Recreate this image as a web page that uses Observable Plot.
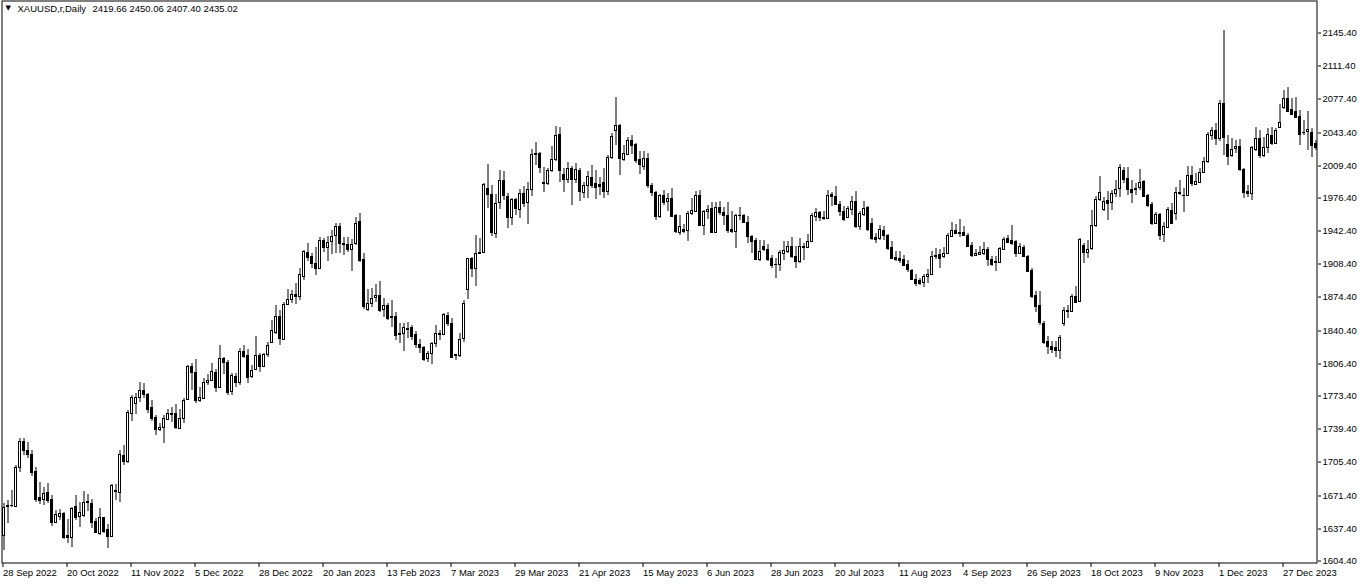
<!DOCTYPE html>
<html><head><meta charset="utf-8">
<script src="https://cdn.jsdelivr.net/npm/d3@7"></script>
<script src="https://cdn.jsdelivr.net/npm/@observablehq/plot@0.6"></script>
<style>
html,body{margin:0;padding:0;background:#fff;overflow:hidden}
#chart svg{display:block}
</style></head><body><div id="chart"></div>
<script>
const symbolTitle = "XAUUSD,r,Daily";
const headerQuote = "2419.66 2450.06 2407.40 2435.02";

const open = [
1630.0,1660.0,1660.6,1659.8,1700.0,1726.4,1717.1,1713.0,1695.6,1668.7,
1666.6,1673.8,1666.6,1643.7,1649.8,1652.3,1630.0,1627.7,1659.8,1649.8,
1650.5,1664.9,1662.5,1644.4,1632.4,1648.2,1636.2,1629.0,1675.8,1674.4,
1712.0,1706.2,1754.7,1765.6,1771.7,1778.3,1774.8,1760.9,1750.6,1738.3,
1740.4,1748.6,1754.3,1754.7,1740.0,1749.6,1769.1,1803.2,1797.4,1768.4,
1770.7,1786.5,1788.9,1797.1,1781.4,1811.1,1807.6,1777.6,1793.0,1787.1,
1818.6,1814.5,1793.3,1800.1,1814.5,1803.5,1815.2,1828.1,1838.3,1854.4,
1830.5,1866.7,1871.5,1877.0,1875.2,1895.7,1919.7,1915.9,1908.4,1903.9,
1932.3,1925.4,1931.3,1937.4,1946.6,1929.5,1927.9,1923.1,1928.9,1951.8,
1912.5,1861.6,1867.4,1873.6,1875.9,1861.6,1865.7,1854.4,1854.4,1836.3,
1836.7,1841.4,1842.9,1835.7,1825.7,1823.0,1811.1,1816.8,1826.4,1836.0,
1836.0,1855.5,1847.0,1815.2,1814.5,1831.6,1882.1,1913.6,1903.3,1918.7,
1920.3,1985.9,1979.1,1939.2,1970.9,1993.8,1977.4,1956.2,1974.3,1963.8,
1980.1,1970.9,1984.6,2020.1,2021.1,1992.0,1991.0,2004.0,2015.3,2040.9,
1999.9,1995.1,2006.1,1995.1,2004.3,1981.5,1989.0,1996.5,1990.7,1989.7,
1991.7,1982.2,2017.0,2045.3,2049.8,2015.3,2020.7,2034.5,2030.7,2015.3,
2007.8,2016.3,1989.0,1981.5,1956.6,1978.7,1972.0,1975.3,1957.6,1940.5,
1943.6,1942.9,1960.0,1962.3,1978.7,1948.0,1961.7,1965.1,1940.2,1965.8,
1961.0,1957.6,1943.6,1941.8,1957.4,1957.6,1950.7,1936.1,1932.6,1913.1,
1925.8,1923.4,1913.9,1908.0,1908.0,1919.0,1921.3,1925.8,1915.6,1910.5,
1925.1,1924.8,1931.6,1956.6,1961.0,1955.6,1954.8,1979.4,1977.1,1969.2,
1961.7,1955.6,1964.4,1972.6,1946.3,1958.9,1965.8,1949.7,1935.1,1934.4,
1942.2,1937.1,1925.1,1914.9,1913.9,1913.1,1907.4,1901.3,1892.0,1891.0,
1889.3,1895.4,1897.8,1915.9,1918.0,1915.9,1919.3,1936.4,1942.2,1940.5,
1940.5,1937.7,1927.5,1917.2,1918.3,1919.3,1922.8,1913.1,1910.5,1909.8,
1923.4,1934.4,1932.6,1931.0,1919.0,1925.1,1916.2,1901.6,1875.6,1865.4,
1847.3,1829.1,1823.4,1822.4,1819.9,1847.3,1859.9,1859.9,1874.6,1869.5,
1927.5,1920.0,1924.1,1948.0,1974.3,1963.8,1973.3,1971.5,1980.8,1985.3,
2004.0,1995.5,1984.2,1985.3,1986.3,1992.8,1978.4,1969.2,1950.0,1958.9,
1938.4,1945.9,1963.0,1960.3,1980.1,1978.1,1978.4,1998.9,1989.7,1992.0,
2002.3,2013.5,2039.9,2045.0,2036.5,2073.0,2030.7,2019.4,2026.2,2028.6,
2004.7,1982.5,1980.8,2025.2,2036.5,2019.4,2027.3,2039.9,2032.0,2047.8,
2068.3,2077.5,2066.2,2064.8,2059.4,2043.3,2044.3,2043.3,2031.4
];
const high = [
1662.5,1665.9,1676.2,1701.8,1729.1,1729.1,1725.6,1717.1,1700.0,1684.7,
1679.5,1683.6,1671.0,1655.7,1656.4,1653.6,1646.1,1658.4,1671.0,1664.2,
1675.1,1672.0,1666.6,1647.2,1657.4,1648.8,1641.3,1682.3,1682.0,1717.1,
1722.3,1758.1,1773.8,1775.8,1787.1,1786.1,1775.8,1768.4,1753.0,1744.5,
1753.0,1758.8,1760.9,1764.3,1758.8,1770.1,1804.2,1806.0,1810.1,1781.4,
1790.6,1795.0,1806.0,1799.8,1824.7,1812.7,1809.3,1795.7,1795.7,1821.3,
1824.7,1820.6,1804.2,1834.2,1816.2,1816.2,1827.5,1850.3,1865.7,1860.6,
1869.1,1882.1,1881.1,1887.9,1903.3,1922.1,1928.9,1918.7,1925.4,1935.7,
1934.0,1936.4,1942.5,1949.4,1949.4,1935.1,1935.1,1933.0,1956.2,1960.3,
1918.7,1881.8,1882.8,1887.2,1890.3,1872.6,1867.4,1870.8,1858.8,1847.0,
1847.0,1848.6,1845.2,1839.1,1830.5,1823.7,1818.9,1827.5,1845.2,1840.1,
1857.2,1858.8,1852.1,1815.8,1836.7,1870.8,1914.2,1915.2,1937.4,1934.0,
1990.4,2009.9,1988.7,1979.1,2004.0,2003.0,1980.1,1975.0,1975.0,1984.6,
1987.9,1992.0,2025.2,2032.4,2022.2,2007.4,2006.4,2028.9,2048.8,2047.8,
2006.1,2012.2,2007.8,2011.2,2006.1,1991.7,2002.7,2009.5,2004.3,1996.5,
2006.1,2019.7,2041.9,2078.5,2051.2,2029.3,2037.5,2040.2,2031.4,2023.8,
2023.2,2021.4,1990.7,1982.2,1979.4,1983.8,1980.5,1985.6,1958.9,1957.6,
1948.7,1961.7,1975.3,1982.8,1983.8,1963.3,1967.9,1971.2,1971.2,1972.6,
1965.8,1971.2,1961.7,1958.9,1965.8,1958.9,1956.6,1937.7,1934.4,1932.6,
1932.6,1928.2,1917.2,1913.9,1922.4,1931.0,1931.6,1935.1,1925.8,1934.4,
1929.2,1938.4,1960.0,1965.1,1962.3,1961.7,1983.8,1981.5,1987.3,1972.0,
1966.8,1966.8,1977.1,1982.2,1961.7,1972.6,1966.8,1954.8,1939.5,1948.0,
1946.6,1938.8,1931.0,1920.7,1920.7,1916.6,1911.5,1902.9,1897.8,1893.4,
1897.8,1902.9,1920.7,1924.1,1922.8,1925.1,1939.8,1950.7,1949.0,1953.5,
1946.6,1939.8,1930.2,1923.4,1926.2,1930.2,1925.1,1915.9,1915.6,1924.8,
1935.1,1937.7,1948.0,1932.6,1929.2,1926.9,1917.2,1903.6,1879.7,1879.7,
1849.0,1833.6,1828.5,1829.1,1835.3,1863.3,1866.0,1877.0,1884.9,1934.4,
1929.2,1932.6,1963.3,1977.1,1997.6,1976.7,1982.8,1983.5,1993.8,2010.2,
2007.4,2006.8,1993.8,1990.4,2004.7,1993.8,1979.1,1971.5,1961.3,1960.3,
1951.0,1965.8,1969.9,1986.3,1993.8,1985.3,2008.1,2008.1,2000.6,2005.8,
2017.6,2043.0,2048.4,2051.9,2075.7,2147.5,2039.9,2036.5,2034.8,2035.5,
2005.8,1988.7,2028.6,2047.8,2045.0,2037.5,2046.7,2047.8,2046.7,2071.6,
2086.0,2089.4,2077.5,2078.5,2065.5,2055.3,2064.8,2046.7,2034.8
];
const low = [
1614.7,1642.0,1658.4,1659.0,1694.9,1712.0,1708.6,1690.5,1664.2,1661.8,
1660.8,1662.5,1639.3,1642.0,1645.4,1626.3,1622.2,1617.4,1645.4,1638.5,
1648.8,1654.9,1637.5,1631.8,1630.0,1631.8,1616.4,1628.0,1665.9,1664.2,
1701.8,1703.5,1747.2,1753.7,1766.6,1770.1,1754.7,1747.2,1732.5,1736.9,
1724.6,1747.9,1746.1,1738.3,1739.0,1745.1,1768.4,1778.6,1765.6,1766.6,
1769.1,1783.7,1788.1,1776.9,1780.4,1794.7,1773.5,1773.5,1782.0,1783.7,
1811.1,1785.5,1790.6,1799.1,1796.7,1802.5,1812.7,1826.4,1835.7,1824.7,
1829.8,1865.7,1867.4,1866.7,1870.8,1891.3,1910.8,1903.3,1896.4,1902.6,
1920.3,1910.8,1917.6,1918.7,1918.7,1916.9,1920.3,1900.8,1927.2,1910.1,
1861.3,1859.9,1864.0,1869.1,1858.8,1853.1,1850.3,1843.5,1829.8,1826.4,
1818.9,1831.6,1829.8,1821.3,1816.8,1808.6,1807.0,1804.9,1823.0,1829.8,
1835.0,1844.5,1812.1,1809.3,1812.1,1827.5,1871.5,1894.7,1885.5,1918.0,
1918.7,1965.4,1936.7,1934.0,1964.1,1973.3,1944.3,1947.7,1957.9,1955.1,
1966.4,1948.7,1977.4,2009.1,2000.6,1981.8,1988.7,2001.7,2013.5,1991.7,
1981.5,1990.7,1968.5,1990.7,1972.0,1975.3,1975.3,1985.6,1974.3,1978.7,
1975.3,1978.7,2015.6,2029.9,1999.2,2013.5,2019.7,2020.4,2011.2,1999.9,
2004.3,1985.6,1977.1,1953.1,1954.8,1968.5,1961.7,1955.6,1939.5,1937.1,
1939.5,1931.6,1958.2,1961.7,1946.3,1937.7,1954.1,1939.5,1939.5,1958.2,
1948.0,1939.5,1939.5,1924.1,1953.1,1949.7,1929.2,1919.0,1912.1,1910.5,
1920.7,1910.5,1903.6,1893.4,1900.2,1912.1,1919.0,1913.9,1903.6,1908.7,
1912.1,1924.1,1931.0,1952.1,1951.5,1953.1,1954.1,1966.8,1968.5,1956.6,
1952.1,1954.8,1958.2,1944.6,1942.9,1956.6,1941.2,1932.6,1929.2,1932.6,
1932.0,1921.7,1912.5,1910.5,1909.0,1905.7,1899.5,1891.0,1885.2,1886.5,
1884.1,1888.6,1896.1,1913.1,1903.6,1913.9,1918.3,1935.4,1938.8,1935.4,
1936.4,1925.1,1914.9,1916.6,1917.2,1916.6,1905.7,1905.7,1900.8,1908.7,
1922.4,1929.2,1927.5,1914.6,1918.0,1914.6,1899.5,1872.9,1858.5,1845.5,
1825.7,1815.5,1816.5,1812.1,1810.7,1843.9,1852.4,1858.5,1867.8,1868.8,
1908.7,1913.9,1922.4,1945.3,1972.6,1962.3,1952.8,1963.0,1976.7,1976.7,
1990.4,1978.4,1969.9,1978.4,1983.5,1976.7,1966.4,1947.7,1948.7,1932.3,
1930.6,1945.3,1948.7,1952.8,1978.4,1961.3,1977.4,1987.6,1988.7,1990.4,
2000.6,2011.5,2034.8,2029.6,2034.0,2019.4,2009.1,2017.6,2021.1,2003.3,
1975.0,1976.7,1973.3,2023.8,2016.0,2017.0,2021.7,2029.6,2030.7,2046.7,
2066.2,2063.8,2060.4,2058.0,2029.6,2039.9,2024.5,2017.0,2024.5
];
const close = [
1659.0,1660.3,1661.0,1699.4,1726.4,1717.1,1712.7,1694.9,1666.9,1665.9,
1672.8,1665.9,1643.7,1651.3,1652.3,1628.3,1628.3,1657.7,1648.8,1653.3,
1664.2,1663.6,1643.7,1633.4,1648.2,1634.4,1629.0,1681.3,1675.1,1712.7,
1706.2,1756.4,1771.7,1771.1,1778.3,1774.2,1759.5,1750.2,1738.3,1740.4,
1749.6,1754.7,1755.0,1740.4,1749.6,1768.4,1803.2,1797.4,1768.4,1771.1,
1786.5,1788.9,1797.8,1781.4,1811.1,1807.0,1776.9,1794.0,1787.1,1818.6,
1813.8,1792.2,1799.1,1814.5,1803.5,1815.2,1824.7,1840.1,1854.4,1832.2,
1866.7,1871.5,1877.0,1875.2,1897.5,1921.0,1915.2,1908.4,1903.9,1932.3,
1925.4,1930.6,1936.7,1946.6,1928.9,1927.9,1922.8,1928.2,1950.0,1911.8,
1865.0,1867.4,1872.6,1875.9,1860.6,1865.7,1852.1,1853.1,1835.0,1836.7,
1843.5,1842.1,1833.9,1825.4,1822.4,1810.7,1816.8,1826.4,1836.7,1837.3,
1856.2,1847.0,1812.7,1814.5,1830.5,1867.4,1913.6,1903.9,1918.7,1920.3,
1989.4,1979.1,1940.2,1969.9,1993.8,1978.4,1956.2,1974.3,1964.8,1980.1,
1969.9,1984.6,2020.1,2021.1,2007.4,1990.4,2004.0,2015.3,2040.2,2004.3,
1995.1,2006.1,1995.1,2005.4,1982.8,1989.0,1997.6,1989.0,1986.6,1987.9,
1982.2,2017.0,2038.6,2050.4,2016.3,2021.4,2034.5,2029.9,2014.6,2010.2,
2016.3,1989.0,1981.5,1957.2,1978.1,1971.2,1975.3,1956.6,1941.2,1946.3,
1941.8,1960.0,1963.3,1978.7,1948.0,1961.7,1964.1,1940.2,1965.8,1960.7,
1958.2,1942.9,1941.2,1957.6,1957.9,1950.4,1936.1,1931.6,1913.1,1920.7,
1923.4,1913.1,1906.4,1907.4,1920.0,1922.4,1925.8,1915.6,1910.5,1925.8,
1925.8,1931.6,1957.6,1961.0,1955.6,1954.5,1978.7,1977.1,1969.2,1961.7,
1954.1,1965.1,1972.0,1946.3,1960.0,1965.1,1943.9,1934.4,1933.6,1943.6,
1937.1,1924.1,1913.9,1912.5,1911.5,1907.0,1902.3,1892.0,1888.6,1888.6,
1895.4,1897.8,1915.9,1917.2,1913.9,1919.3,1937.7,1942.2,1939.8,1939.8,
1937.7,1926.2,1916.6,1919.3,1920.0,1922.8,1913.1,1908.0,1909.8,1924.1,
1933.6,1930.2,1929.2,1919.0,1925.8,1915.6,1900.8,1874.6,1864.4,1848.3,
1827.8,1823.4,1820.9,1819.9,1832.6,1860.9,1860.9,1874.6,1868.8,1933.3,
1920.0,1923.1,1947.4,1974.3,1981.5,1972.6,1970.5,1980.8,1984.2,2006.8,
1994.5,1984.2,1981.8,1984.2,1992.0,1977.4,1968.2,1950.0,1958.9,1937.4,
1946.6,1963.8,1950.0,1981.8,1981.5,1978.7,1998.9,1990.4,1993.1,2002.3,
2013.5,2040.5,2045.0,2036.5,2072.4,2038.1,2018.4,2025.2,2028.6,2004.7,
1981.8,1980.1,2027.3,2036.5,2019.4,2027.9,2040.9,2031.4,2045.0,2053.5,
2077.5,2064.8,2061.4,2058.6,2040.9,2043.0,2045.7,2029.6,2027.3
];

const priceTicks = [2145.40,2111.40,2077.40,2043.40,2009.40,1976.40,1942.40,1908.40,1874.40,1840.40,1806.40,1773.40,1739.40,1705.40,1671.40,1637.40,1604.40];
const dateTickBars = [0,16,32,48,64,80,96,112,128,144,160,176,192,208,224,240,256,272,288,304,320];
const dateTickLabels = ["28 Sep 2022","20 Oct 2022","11 Nov 2022","5 Dec 2022","28 Dec 2022","20 Jan 2023","13 Feb 2023","7 Mar 2023","29 Mar 2023","21 Apr 2023","15 May 2023","6 Jun 2023","28 Jun 2023","20 Jul 2023","11 Aug 2023","4 Sep 2023","26 Sep 2023","18 Oct 2023","9 Nov 2023","1 Dec 2023","27 Dec 2023"];

const bars = open.map((o, i) => ({i, o, h: high[i], l: low[i], c: close[i]}));
const bulls = bars.filter(d => d.c > d.o);

const W = 1362, H = 584, plotRight = 1317, plotBottom = 563;
const font = "'Liberation Sans', Arial, sans-serif";

const chart = Plot.plot({
  width: W, height: H,
  marginLeft: 0, marginTop: 0, marginRight: W - plotRight, marginBottom: H - plotBottom,
  style: {fontFamily: font, fontSize: "9.5px", color: "#000", background: "#fff", overflow: "visible"},
  x: {domain: [-0.875, bars.length - 1 + 0.125], range: [0, 4 * bars.length], label: null},
  y: {domain: [1601.34, 2178.19], range: [plotBottom, 0], round: true, label: null},
  marks: [
    Plot.frame({stroke: "#000", insetLeft: 1.5, insetTop: 0.5, insetRight: 0.5, insetBottom: 0.5}),
    Plot.ruleX(bars, {x: "i", y1: "l", y2: "h", stroke: "#000", strokeWidth: 1}),
    Plot.rect(bars, {x1: d => d.i - 0.375, x2: d => d.i + 0.375, y1: d => Math.min(d.o, d.c), y2: d => Math.max(d.o, d.c), fill: "#000", insetBottom: -1}),
    Plot.rect(bulls, {x1: d => d.i - 0.125, x2: d => d.i + 0.125, y1: "o", y2: "c", fill: "#fff", insetTop: 1}),
    Plot.axisY(priceTicks, {anchor: "right", label: null, tickSize: 3, tickPadding: 2, dy: 0.5, tickFormat: d => d.toFixed(2), fontSize: 9.5}),
    Plot.axisX(dateTickBars, {anchor: "bottom", label: null, tickSize: 4, tickPadding: 2, textAnchor: "start", dx: -1, fontSize: 9.5,
      tickFormat: d => dateTickLabels[dateTickBars.indexOf(d)]}),
    Plot.text(["\u25BC"], {frameAnchor: "top-left", dx: 5, dy: 5, text: d => d, fontSize: 7, fontFamily: "'DejaVu Sans', sans-serif", lineAnchor: "top", textAnchor: "start"}),
    Plot.text([symbolTitle], {frameAnchor: "top-left", dx: 17, dy: 5, text: d => d, fontSize: 9.5, lineAnchor: "top", textAnchor: "start"}),
    Plot.text([headerQuote], {frameAnchor: "top-left", dx: 92, dy: 5, text: d => d, fontSize: 9.5, lineAnchor: "top", textAnchor: "start"})
  ]
});
document.getElementById("chart").appendChild(chart);
</script>
</body></html>
